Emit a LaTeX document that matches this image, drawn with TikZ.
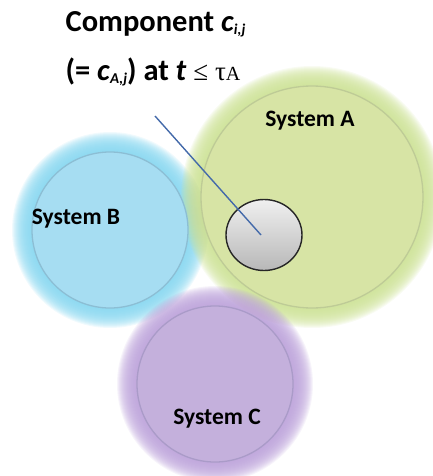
\documentclass[tikz,border=0pt]{standalone}
\usepackage{fontspec}
\setmainfont{Carlito}
\newfontfamily\taufont{Liberation Serif}
\usetikzlibrary{shapes.geometric}
\definecolor{sysgreen}{RGB}{215,228,165}
\definecolor{sysgreenglow}{RGB}{205,226,150}
\definecolor{sysgreenline}{RGB}{190,203,150}
\definecolor{sysblue}{RGB}{166,221,242}
\definecolor{sysblueglow}{RGB}{135,215,240}
\definecolor{sysblueline}{RGB}{140,190,212}
\definecolor{syspurple}{RGB}{196,176,220}
\definecolor{syspurpleglow}{RGB}{188,162,218}
\definecolor{syspurpleline}{RGB}{170,155,200}
\definecolor{pointerblue}{RGB}{68,106,170}

\newcommand\lowidx[1]{\raisebox{-0.2ex}{\fontsize{15}{15}\selectfont\itshape #1}}

\begin{document}
\begin{tikzpicture}[
  x=1pt,y=1pt,font=\bfseries,
  halo/.style={fill=#1,fill opacity=0.12},
  system/.style={circle,line width=1.3pt,inner sep=0pt},
  syslabel/.style={font=\fontsize{23.5}{25}\selectfont\bfseries,inner sep=0pt},
  title/.style={font=\fontsize{30.5}{32}\selectfont\bfseries,inner sep=0pt,anchor=base},
  comp/.style={ellipse,draw=black!85,line width=1.4pt,top color=white!94!black,bottom color=black!28,
               minimum width=76pt,minimum height=71pt,inner sep=0pt},
  pointer/.style={draw=pointerblue,line width=1.4pt}
]
\useasboundingbox (0,0) rectangle (432,-476);
\coordinate (cA) at (312,-197);
\coordinate (cB) at (110,-230);
\coordinate (cC) at (215,-384);
% ---------- soft halos, built up from faint rings
\foreach \c/\col/\r in {cB/sysblueglow/78, cA/sysgreenglow/111, cC/syspurpleglow/78}
  \foreach \k in {1,...,20}
    \fill[halo=\col] (\c) circle ({\r+\k});
% ---------- systems
\node[system,draw=sysblueline,fill=sysblue,minimum size=156pt]     (B) at (cB) {};
\node[system,draw=sysgreenline,fill=sysgreen,minimum size=222pt]   (A) at (cA) {};
\node[system,draw=syspurpleline,fill=syspurple,minimum size=156pt] (C) at (cC) {};
\node[syslabel] (labA) at (310,-121) {System A};
\node[syslabel] (labB) at (76,-219)  {System B};
\node[syslabel] (labC) at (217,-419) {System C};
% ---------- component and its caption
\node[comp] (cij) at (264,-235) {};
\node[title] (cap1) at (155.5,-32) {Component \textit{c}\lowidx{i,j}};
\node[title] (cap2) at (153,-81) {(= \textit{c}\lowidx{A,j}) at \textit{t}
  {\taufont\mdseries\fontsize{27}{28}\selectfont ≤ τ\fontsize{20}{22}\selectfont A}};
\coordinate (tail) at (155,-116);
\draw[pointer] (tail) -- ([xshift=-3pt]cij.center);
\end{tikzpicture}
\end{document}
